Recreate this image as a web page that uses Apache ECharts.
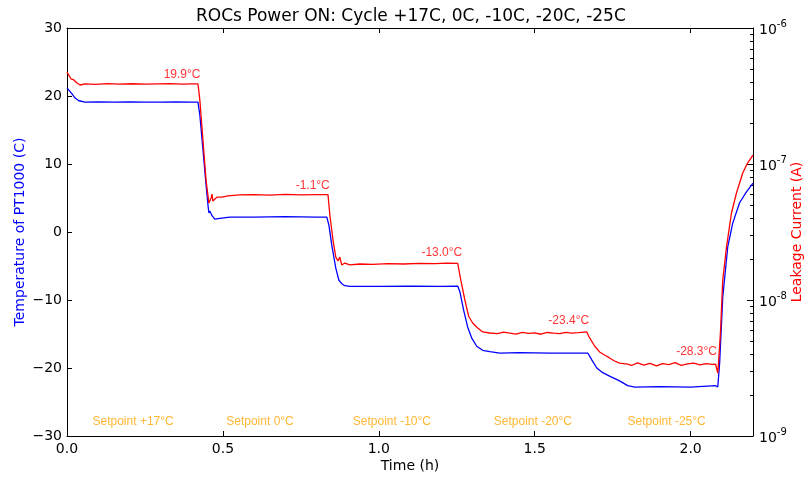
<!DOCTYPE html>
<html>
<head>
<meta charset="utf-8">
<script src="https://cdn.jsdelivr.net/npm/echarts@6/dist/echarts.min.js"></script>
<style>html,body{margin:0;padding:0;background:#fff}#c{width:806px;height:478px}</style>
</head>
<body>
<div id="c"></div>
<script>
// ---- Data ----
const titleText = 'ROCs Power ON: Cycle +17C, 0C, -10C, -20C, -25C';
const xTicks = [0, 0.5, 1.0, 1.5, 2.0];
const tempTicks = [-30, -20, -10, 0, 10, 20, 30];

// Temperature of PT1000 (C)
const tempTimes = [0.000,0.006,0.016,0.026,0.038,0.058,0.10,0.15,0.20,0.25,0.30,0.35,0.40,0.420,
  0.426,0.436,0.446,0.452,0.455,0.458,0.465,0.474,0.490,0.522,0.60,0.70,0.80,0.833,
  0.840,0.849,0.862,0.872,0.881,0.891,0.907,1.00,1.10,1.20,1.253,
  1.260,1.272,1.285,1.298,1.314,1.333,1.356,1.388,1.45,1.55,1.670,
  1.683,1.699,1.715,1.740,1.772,1.798,1.821,1.90,2.00,2.080,
  2.087,2.093,2.103,2.119,2.135,2.157,2.179,2.200];
const tempValues = [21.2,21.0,20.3,19.7,19.3,19.1,19.15,19.1,19.15,19.1,19.1,19.15,19.1,19.1,
  17.2,12.1,6.9,4.0,2.8,3.1,2.4,1.9,2.0,2.2,2.2,2.25,2.2,2.2,
  1.0,-1.9,-5.3,-7.1,-7.6,-7.9,-8.0,-8.0,-7.95,-8.0,-7.95,
  -8.8,-11.5,-14.0,-15.6,-16.8,-17.4,-17.6,-17.8,-17.75,-17.8,-17.8,
  -18.8,-20.0,-20.6,-21.2,-21.9,-22.6,-22.8,-22.75,-22.8,-22.6,
  -22.8,-19.3,-9.6,-2.2,1.3,4.3,5.9,7.2];

// Leakage current (A)
const currentTimes = [0.000,0.006,0.013,0.022,0.032,0.042,0.058,0.09,0.13,0.17,0.21,0.25,0.29,0.33,0.37,0.40,0.420,
  0.426,0.436,0.446,0.455,0.458,0.462,0.465,0.468,0.474,0.481,0.487,0.497,0.516,0.554,0.60,0.65,0.70,0.75,0.80,0.837,
  0.843,0.853,0.862,0.869,0.875,0.881,0.891,0.907,0.939,0.98,1.03,1.08,1.13,1.18,1.22,1.253,
  1.263,1.276,1.288,1.301,1.317,1.333,1.356,1.38,1.40,1.42,1.44,1.46,1.48,1.50,1.52,1.54,1.56,1.58,1.60,1.62,1.64,1.667,
  1.676,1.692,1.708,1.724,1.740,1.756,1.772,1.798,1.81,1.83,1.85,1.87,1.89,1.91,1.93,1.95,1.97,1.99,2.01,2.03,2.05,2.07,2.080,
  2.087,2.090,2.096,2.103,2.115,2.131,2.147,2.167,2.183,2.200];
const currentValues = [4.74e-7,4.59e-7,4.22e-7,4.15e-7,3.94e-7,3.81e-7,3.88e-7,3.85e-7,3.9e-7,3.86e-7,3.89e-7,3.86e-7,3.88e-7,3.9e-7,3.86e-7,3.88e-7,3.88e-7,
  2.96e-7,1.50e-7,7.6e-8,5.16e-8,5.0e-8,5.63e-8,6.0e-8,5.34e-8,5.43e-8,5.71e-8,5.53e-8,5.71e-8,5.82e-8,5.92e-8,5.95e-8,5.9e-8,5.97e-8,5.92e-8,5.95e-8,5.95e-8,
  4.22e-8,2.76e-8,2.07e-8,1.94e-8,2.07e-8,1.81e-8,1.87e-8,1.81e-8,1.84e-8,1.83e-8,1.85e-8,1.84e-8,1.86e-8,1.85e-8,1.87e-8,1.86e-8,
  1.40e-8,1.0e-8,7.6e-9,6.77e-9,6.22e-9,5.82e-9,5.72e-9,5.65e-9,5.80e-9,5.70e-9,5.62e-9,5.78e-9,5.69e-9,5.74e-9,5.60e-9,5.77e-9,5.71e-9,5.66e-9,5.79e-9,5.70e-9,5.75e-9,5.82e-9,
  5.26e-9,4.59e-9,4.15e-9,3.94e-9,3.75e-9,3.56e-9,3.44e-9,3.38e-9,3.30e-9,3.45e-9,3.32e-9,3.42e-9,3.28e-9,3.40e-9,3.35e-9,3.46e-9,3.31e-9,3.39e-9,3.44e-9,3.33e-9,3.41e-9,3.36e-9,3.38e-9,
  2.9e-9,3.62e-9,6.0e-9,1.40e-8,2.45e-8,4.36e-8,6.12e-8,8.59e-8,1.02e-7,1.16e-7];

// Red plateau annotations (placed in time / current coordinates)
const annotationTimes = [0.369, 0.788, 1.202, 1.609, 2.019];
const annotationCurrents = [4.5e-7, 6.9e-8, 2.22e-8, 7.0e-9, 4.15e-9];
const annotationTexts = ['19.9°C', '-1.1°C', '-13.0°C', '-23.4°C', '-28.3°C'];

// Setpoint labels (placed in time / temperature coordinates)
const setpointTimes = [0.212, 0.619, 1.042, 1.494, 1.923];
const setpointTemp = -27.9;
const setpointTexts = ['Setpoint +17°C', 'Setpoint 0°C', 'Setpoint -10°C', 'Setpoint -20°C', 'Setpoint -25°C'];

// Log-axis ticks
const logMajorTicks = [1e-9, 1e-8, 1e-7, 1e-6];
const logMinorTicks = [];
[1e-9, 1e-8, 1e-7].forEach(d => { for (let k = 2; k <= 9; k++) logMinorTicks.push(+(k * d).toPrecision(3)); });

// ---- Chart ----
const FONT = 'DejaVu Sans';
const BLUE = '#0000ff';
const RED = '#ff0000';
const ORANGE = '#ffa500';

const tempData = tempTimes.map((t, i) => [t, tempValues[i]]);
const currentData = currentTimes.map((t, i) => [t, currentValues[i]]);
const annData = annotationTimes.map((t, i) => [t, annotationCurrents[i], annotationTexts[i]]);
const spData = setpointTimes.map((t, i) => [t, setpointTemp, setpointTexts[i]]);

const gridRect = {left: 67, right: 53, top: 28, bottom: 42, containLabel: false, outerBoundsMode: 'none'};

const chart = echarts.init(document.getElementById('c'), null, {renderer: 'canvas'});
chart.setOption({
  animation: false,
  backgroundColor: '#ffffff',
  title: {
    text: titleText, left: 191, top: 3,
    textStyle: {fontFamily: FONT, fontSize: 17, fontWeight: 'normal', color: '#000'}
  },
  grid: [Object.assign({}, gridRect), Object.assign({}, gridRect)],
  xAxis: [{
    gridIndex: 0, type: 'value', min: 0, max: 2.2, position: 'bottom',
    name: 'Time (h)', nameLocation: 'middle', nameGap: 23, nameMoveOverlap: false,
    nameTextStyle: {fontFamily: FONT, fontSize: 14, color: '#000'},
    axisLine: {show: true, onZero: false, lineStyle: {color: '#000', width: 1}},
    axisTick: {show: true, inside: true, length: 5, customValues: xTicks, lineStyle: {color: '#000'}},
    axisLabel: {show: true, customValues: xTicks, margin: 6, fontFamily: FONT, fontSize: 14, color: '#000',
      formatter: v => v.toFixed(1)},
    splitLine: {show: false}
  }, {
    gridIndex: 0, type: 'value', min: 0, max: 2.2, position: 'top',
    axisLine: {show: true, onZero: false, lineStyle: {color: '#000', width: 1}},
    axisTick: {show: true, inside: true, length: 5, customValues: xTicks, lineStyle: {color: '#000'}},
    axisLabel: {show: false},
    splitLine: {show: false}
  }, {
    gridIndex: 1, type: 'value', min: 0, max: 2.2, position: 'bottom', show: false
  }],
  yAxis: [{
    gridIndex: 0, type: 'value', min: -30, max: 30, interval: 10, position: 'left',
    name: 'Temperature of PT1000 (C)', nameLocation: 'middle', nameGap: 40, nameMoveOverlap: false,
    nameTextStyle: {fontFamily: FONT, fontSize: 14, color: BLUE},
    axisLine: {show: true, onZero: false, lineStyle: {color: '#000', width: 1}},
    axisTick: {show: true, inside: true, length: 5, customValues: tempTicks, lineStyle: {color: '#000'}},
    minorTick: {show: false},
    axisLabel: {show: true, margin: 5, customValues: tempTicks, fontFamily: FONT, fontSize: 14, color: '#000',
      formatter: v => String(v).replace('-', '\u2212')},
    splitLine: {show: false}
  }, {
    gridIndex: 0, type: 'log', logBase: 10, min: 1e-9, max: 1e-6, position: 'right',
    name: 'Leakage Current (A)', nameLocation: 'middle', nameGap: 37, nameRotate: 90, nameMoveOverlap: false,
    nameTextStyle: {fontFamily: FONT, fontSize: 14, color: RED},
    axisLine: {show: true, onZero: false, lineStyle: {color: '#000', width: 1}},
    axisTick: {show: true, inside: true, length: 6, customValues: logMajorTicks, lineStyle: {color: '#000'}},
    minorTick: {show: false},
    axisLabel: {show: true, margin: 6, align: 'left', customValues: logMajorTicks, color: '#000',
      formatter: v => '{b|10}{s|' + Math.round(Math.log10(v)) + '}',
      rich: {
        b: {fontFamily: FONT, fontSize: 14, color: '#000', lineHeight: 18, verticalAlign: 'bottom'},
        s: {fontFamily: FONT, fontSize: 10, color: '#000', lineHeight: 10, verticalAlign: 'top'}
      }},
    splitLine: {show: false}
  }, {
    // hidden placeholder so the minor-tick axis below goes on the right side
    gridIndex: 1, type: 'value', min: -30, max: 30, position: 'left', show: false
  }, {
    gridIndex: 1, type: 'log', logBase: 10, min: 1e-9, max: 1e-6, position: 'right',
    axisLine: {show: false},
    axisTick: {show: true, inside: true, length: 3, customValues: logMinorTicks, lineStyle: {color: '#000'}},
    minorTick: {show: false},
    axisLabel: {show: false},
    splitLine: {show: false}
  }],
  series: [{
    type: 'line', name: 'Temperature', xAxisIndex: 0, yAxisIndex: 0,
    data: tempData, showSymbol: false, symbol: 'none',
    lineStyle: {color: BLUE, width: 1.3}, z: 3
  }, {
    type: 'line', name: 'Leakage current', xAxisIndex: 0, yAxisIndex: 1,
    data: currentData, showSymbol: false, symbol: 'none',
    lineStyle: {color: RED, width: 1.3}, z: 4
  }, {
    type: 'scatter', xAxisIndex: 0, yAxisIndex: 1, data: annData, symbolSize: 0,
    label: {show: true, position: 'inside', formatter: p => p.data[2],
      fontFamily: 'Liberation Sans', fontSize: 12, color: RED},
    z: 5
  }, {
    type: 'scatter', xAxisIndex: 0, yAxisIndex: 0, data: spData, symbolSize: 0,
    label: {show: true, position: 'inside', formatter: p => p.data[2],
      fontFamily: 'Liberation Sans', fontSize: 12, color: ORANGE},
    z: 5
  }]
});
</script>
</body>
</html>
